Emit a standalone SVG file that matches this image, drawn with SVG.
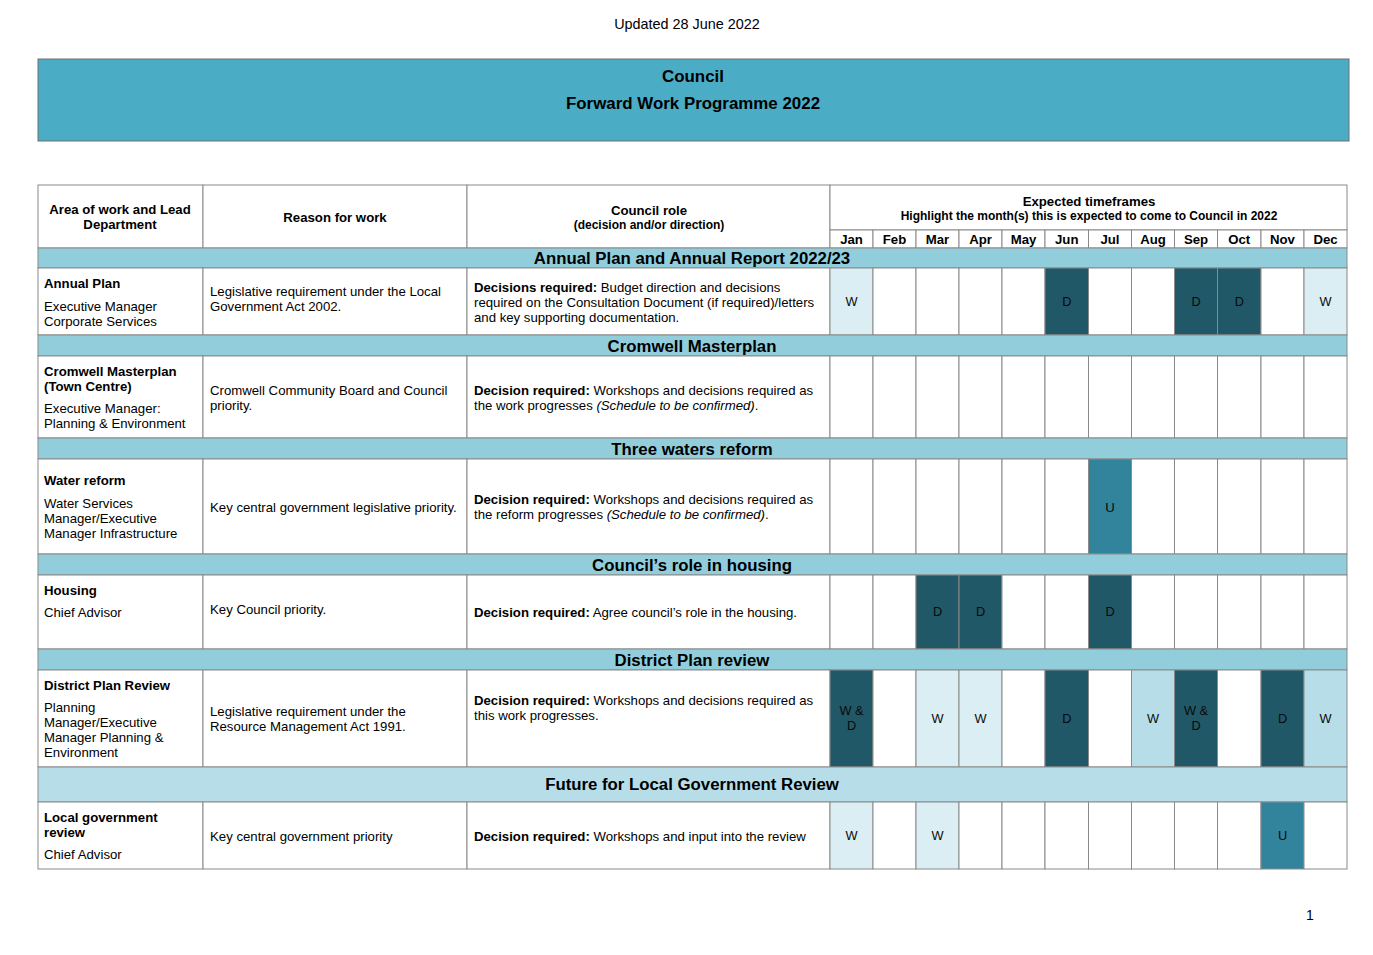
<svg xmlns="http://www.w3.org/2000/svg" width="1373" height="955" viewBox="0 0 1373 955">
<style>
text{font-family:"Liberation Sans",Arial,sans-serif;fill:#000}
.t{font-size:13.2px}
.b{font-weight:bold}
.s{font-size:12px;font-weight:bold}
.c{text-anchor:middle}
.band{font-size:16.8px;font-weight:bold;text-anchor:middle}
.ttl{font-size:16.9px;font-weight:bold;text-anchor:middle}
.m{font-size:12.8px;text-anchor:middle;fill:#0a0a0a}
.cell{stroke:#8a8a8a;stroke-width:1}
.w{fill:#fff}
.bd{fill:#92CDDC}
.bd2{fill:#B7DEE8}
.dk{fill:#215868}
.up{fill:#31849B}
.lt{fill:#DAEEF3}
.md{fill:#B7DEE8}
</style>
<rect x="0" y="0" width="1373" height="955" fill="#fff"/>
<text class="c" x="687" y="29" style="font-size:14.4px">Updated 28 June 2022</text>
<g id="title">
<rect x="38" y="59" width="1311" height="82" fill="#4BACC6" stroke="#6f6f6f" stroke-width="1"/>
<text class="ttl" x="693" y="82">Council</text>
<text class="ttl" x="693" y="109">Forward Work Programme 2022</text>
</g>
<g id="header" class="cell">
<rect class="w" x="38" y="185" width="165" height="63"/>
<rect class="w" x="203" y="185" width="264" height="63"/>
<rect class="w" x="467" y="185" width="363" height="63"/>
<rect class="w" x="830" y="185" width="517" height="45"/>
<g stroke="none">
<text class="t b c" x="120" y="214">Area of work and Lead</text>
<text class="t b c" x="120" y="229">Department</text>
<text class="t b c" x="335" y="222">Reason for work</text>
<text class="t b c" x="649" y="215">Council role</text>
<text class="s c" x="649" y="229">(decision and/or direction)</text>
<text class="t b c" x="1089" y="206">Expected timeframes</text>
<text class="s c" x="1089" y="220">Highlight the month(s) this is expected to come to Council in 2022</text>
</g>
<g id="months">
<rect class="w" x="830" y="230" width="43" height="18"/><rect class="w" x="873" y="230" width="43" height="18"/><rect class="w" x="916" y="230" width="43" height="18"/><rect class="w" x="959" y="230" width="43" height="18"/><rect class="w" x="1002" y="230" width="43" height="18"/><rect class="w" x="1045" y="230" width="43.5" height="18"/><rect class="w" x="1088.5" y="230" width="43" height="18"/><rect class="w" x="1131.5" y="230" width="43" height="18"/><rect class="w" x="1174.5" y="230" width="43" height="18"/><rect class="w" x="1217.5" y="230" width="43.5" height="18"/><rect class="w" x="1261" y="230" width="43" height="18"/><rect class="w" x="1304" y="230" width="43" height="18"/>
<g stroke="none">
<text class="t b c" x="851.5" y="244">Jan</text><text class="t b c" x="894.5" y="244">Feb</text><text class="t b c" x="937.5" y="244">Mar</text><text class="t b c" x="980.5" y="244">Apr</text><text class="t b c" x="1023.5" y="244">May</text><text class="t b c" x="1066.75" y="244">Jun</text><text class="t b c" x="1110" y="244">Jul</text><text class="t b c" x="1153" y="244">Aug</text><text class="t b c" x="1196" y="244">Sep</text><text class="t b c" x="1239.25" y="244">Oct</text><text class="t b c" x="1282.5" y="244">Nov</text><text class="t b c" x="1325.5" y="244">Dec</text>
</g>
</g>
</g>

<g id="band-annual">
<rect class="bd cell" x="38" y="248" width="1309" height="20"/>
<text class="band" x="692" y="264">Annual Plan and Annual Report 2022/23</text>
</g>
<g id="row-annual-plan">
<g class="cell">
<rect class="w" x="38" y="268" width="165" height="67"/>
<rect class="w" x="203" y="268" width="264" height="67"/>
<rect class="w" x="467" y="268" width="363" height="67"/>
<rect class="lt" x="830" y="268" width="43" height="67"/><rect class="w" x="873" y="268" width="43" height="67"/><rect class="w" x="916" y="268" width="43" height="67"/><rect class="w" x="959" y="268" width="43" height="67"/><rect class="w" x="1002" y="268" width="43" height="67"/><rect class="dk" x="1045" y="268" width="43.5" height="67"/><rect class="w" x="1088.5" y="268" width="43" height="67"/><rect class="w" x="1131.5" y="268" width="43" height="67"/><rect class="dk" x="1174.5" y="268" width="43" height="67"/><rect class="dk" x="1217.5" y="268" width="43.5" height="67"/><rect class="w" x="1261" y="268" width="43" height="67"/><rect class="lt" x="1304" y="268" width="43" height="67"/>
</g>
<text class="t b" x="44" y="288">Annual Plan</text>
<text class="t" x="44" y="311">Executive Manager</text>
<text class="t" x="44" y="326">Corporate Services</text>
<text class="t" x="210" y="296">Legislative requirement under the Local</text>
<text class="t" x="210" y="311">Government Act 2002.</text>
<text class="t" x="474" y="292"><tspan class="b">Decisions required:</tspan> Budget direction and decisions</text>
<text class="t" x="474" y="307">required on the Consultation Document (if required)/letters</text>
<text class="t" x="474" y="322">and key supporting documentation.</text>
<text class="m" x="851.5" y="306">W</text><text class="m" x="1066.75" y="306">D</text><text class="m" x="1196" y="306">D</text><text class="m" x="1239.25" y="306">D</text><text class="m" x="1325.5" y="306">W</text>
</g>

<g id="band-cromwell">
<rect class="bd cell" x="38" y="335" width="1309" height="21"/>
<text class="band" x="692" y="352">Cromwell Masterplan</text>
</g>
<g id="row-cromwell">
<g class="cell">
<rect class="w" x="38" y="356" width="165" height="82"/>
<rect class="w" x="203" y="356" width="264" height="82"/>
<rect class="w" x="467" y="356" width="363" height="82"/>
<rect class="w" x="830" y="356" width="43" height="82"/><rect class="w" x="873" y="356" width="43" height="82"/><rect class="w" x="916" y="356" width="43" height="82"/><rect class="w" x="959" y="356" width="43" height="82"/><rect class="w" x="1002" y="356" width="43" height="82"/><rect class="w" x="1045" y="356" width="43.5" height="82"/><rect class="w" x="1088.5" y="356" width="43" height="82"/><rect class="w" x="1131.5" y="356" width="43" height="82"/><rect class="w" x="1174.5" y="356" width="43" height="82"/><rect class="w" x="1217.5" y="356" width="43.5" height="82"/><rect class="w" x="1261" y="356" width="43" height="82"/><rect class="w" x="1304" y="356" width="43" height="82"/>
</g>
<text class="t b" x="44" y="376">Cromwell Masterplan</text>
<text class="t b" x="44" y="391">(Town Centre)</text>
<text class="t" x="44" y="413">Executive Manager:</text>
<text class="t" x="44" y="428">Planning &amp; Environment</text>
<text class="t" x="210" y="395">Cromwell Community Board and Council</text>
<text class="t" x="210" y="410">priority.</text>
<text class="t" x="474" y="395"><tspan class="b">Decision required:</tspan> Workshops and decisions required as</text>
<text class="t" x="474" y="410">the work progresses <tspan font-style="italic">(Schedule to be confirmed)</tspan>.</text>
</g>

<g id="band-three-waters">
<rect class="bd cell" x="38" y="438" width="1309" height="21"/>
<text class="band" x="692" y="455">Three waters reform</text>
</g>
<g id="row-water">
<g class="cell">
<rect class="w" x="38" y="459" width="165" height="95"/>
<rect class="w" x="203" y="459" width="264" height="95"/>
<rect class="w" x="467" y="459" width="363" height="95"/>
<rect class="w" x="830" y="459" width="43" height="95"/><rect class="w" x="873" y="459" width="43" height="95"/><rect class="w" x="916" y="459" width="43" height="95"/><rect class="w" x="959" y="459" width="43" height="95"/><rect class="w" x="1002" y="459" width="43" height="95"/><rect class="w" x="1045" y="459" width="43.5" height="95"/><rect class="up" x="1088.5" y="459" width="43" height="95"/><rect class="w" x="1131.5" y="459" width="43" height="95"/><rect class="w" x="1174.5" y="459" width="43" height="95"/><rect class="w" x="1217.5" y="459" width="43.5" height="95"/><rect class="w" x="1261" y="459" width="43" height="95"/><rect class="w" x="1304" y="459" width="43" height="95"/>
</g>
<text class="t b" x="44" y="485">Water reform</text>
<text class="t" x="44" y="508">Water Services</text>
<text class="t" x="44" y="523">Manager/Executive</text>
<text class="t" x="44" y="538">Manager Infrastructure</text>
<text class="t" x="210" y="512">Key central government legislative priority.</text>
<text class="t" x="474" y="504"><tspan class="b">Decision required:</tspan> Workshops and decisions required as</text>
<text class="t" x="474" y="519">the reform progresses <tspan font-style="italic">(Schedule to be confirmed)</tspan>.</text>
<text class="m" x="1110" y="512" style="font-size:13.2px">U</text>
</g>

<g id="band-housing">
<rect class="bd cell" x="38" y="554" width="1309" height="21"/>
<text class="band" x="692" y="571">Council’s role in housing</text>
</g>
<g id="row-housing">
<g class="cell">
<rect class="w" x="38" y="575" width="165" height="74"/>
<rect class="w" x="203" y="575" width="264" height="74"/>
<rect class="w" x="467" y="575" width="363" height="74"/>
<rect class="w" x="830" y="575" width="43" height="74"/><rect class="w" x="873" y="575" width="43" height="74"/><rect class="dk" x="916" y="575" width="43" height="74"/><rect class="dk" x="959" y="575" width="43" height="74"/><rect class="w" x="1002" y="575" width="43" height="74"/><rect class="w" x="1045" y="575" width="43.5" height="74"/><rect class="dk" x="1088.5" y="575" width="43" height="74"/><rect class="w" x="1131.5" y="575" width="43" height="74"/><rect class="w" x="1174.5" y="575" width="43" height="74"/><rect class="w" x="1217.5" y="575" width="43.5" height="74"/><rect class="w" x="1261" y="575" width="43" height="74"/><rect class="w" x="1304" y="575" width="43" height="74"/>
</g>
<text class="t b" x="44" y="595">Housing</text>
<text class="t" x="44" y="617">Chief Advisor</text>
<text class="t" x="210" y="614">Key Council priority.</text>
<text class="t" x="474" y="617"><tspan class="b">Decision required:</tspan> Agree council’s role in the housing.</text>
<text class="m" x="937.5" y="616">D</text><text class="m" x="980.5" y="616">D</text><text class="m" x="1110" y="616">D</text>
</g>

<g id="band-district">
<rect class="bd cell" x="38" y="649" width="1309" height="21"/>
<text class="band" x="692" y="666">District Plan review</text>
</g>
<g id="row-district">
<g class="cell">
<rect class="w" x="38" y="670" width="165" height="97"/>
<rect class="w" x="203" y="670" width="264" height="97"/>
<rect class="w" x="467" y="670" width="363" height="97"/>
<rect class="dk" x="830" y="670" width="43" height="97"/><rect class="w" x="873" y="670" width="43" height="97"/><rect class="lt" x="916" y="670" width="43" height="97"/><rect class="lt" x="959" y="670" width="43" height="97"/><rect class="w" x="1002" y="670" width="43" height="97"/><rect class="dk" x="1045" y="670" width="43.5" height="97"/><rect class="w" x="1088.5" y="670" width="43" height="97"/><rect class="md" x="1131.5" y="670" width="43" height="97"/><rect class="dk" x="1174.5" y="670" width="43" height="97"/><rect class="w" x="1217.5" y="670" width="43.5" height="97"/><rect class="dk" x="1261" y="670" width="43" height="97"/><rect class="md" x="1304" y="670" width="43" height="97"/>
</g>
<text class="t b" x="44" y="690">District Plan Review</text>
<text class="t" x="44" y="712">Planning</text>
<text class="t" x="44" y="727">Manager/Executive</text>
<text class="t" x="44" y="742">Manager Planning &amp;</text>
<text class="t" x="44" y="757">Environment</text>
<text class="t" x="210" y="716">Legislative requirement under the</text>
<text class="t" x="210" y="731">Resource Management Act 1991.</text>
<text class="t" x="474" y="705"><tspan class="b">Decision required:</tspan> Workshops and decisions required as</text>
<text class="t" x="474" y="720">this work progresses.</text>
<text class="m" x="851.5" y="715">W &amp;</text><text class="m" x="851.5" y="730">D</text>
<text class="m" x="937.5" y="723">W</text><text class="m" x="980.5" y="723">W</text><text class="m" x="1066.75" y="723">D</text><text class="m" x="1153" y="723">W</text>
<text class="m" x="1196" y="715">W &amp;</text><text class="m" x="1196" y="730">D</text>
<text class="m" x="1282.5" y="723">D</text><text class="m" x="1325.5" y="723">W</text>
</g>

<g id="band-local-gov">
<rect class="bd2 cell" x="38" y="767" width="1309" height="35"/>
<text class="band" x="692" y="790">Future for Local Government Review</text>
</g>
<g id="row-local-gov">
<g class="cell">
<rect class="w" x="38" y="802" width="165" height="67"/>
<rect class="w" x="203" y="802" width="264" height="67"/>
<rect class="w" x="467" y="802" width="363" height="67"/>
<rect class="lt" x="830" y="802" width="43" height="67"/><rect class="w" x="873" y="802" width="43" height="67"/><rect class="lt" x="916" y="802" width="43" height="67"/><rect class="w" x="959" y="802" width="43" height="67"/><rect class="w" x="1002" y="802" width="43" height="67"/><rect class="w" x="1045" y="802" width="43.5" height="67"/><rect class="w" x="1088.5" y="802" width="43" height="67"/><rect class="w" x="1131.5" y="802" width="43" height="67"/><rect class="w" x="1174.5" y="802" width="43" height="67"/><rect class="w" x="1217.5" y="802" width="43.5" height="67"/><rect class="up" x="1261" y="802" width="43" height="67"/><rect class="w" x="1304" y="802" width="43" height="67"/>
</g>
<text class="t b" x="44" y="822">Local government</text>
<text class="t b" x="44" y="837">review</text>
<text class="t" x="44" y="859">Chief Advisor</text>
<text class="t" x="210" y="841">Key central government priority</text>
<text class="t" x="474" y="841"><tspan class="b">Decision required:</tspan> Workshops and input into the review</text>
<text class="m" x="851.5" y="840">W</text><text class="m" x="937.5" y="840">W</text><text class="m" x="1282.5" y="840">U</text>
</g>
<g id="connectors"></g>
<text x="1306" y="920" style="font-size:14px">1</text>
</svg>
